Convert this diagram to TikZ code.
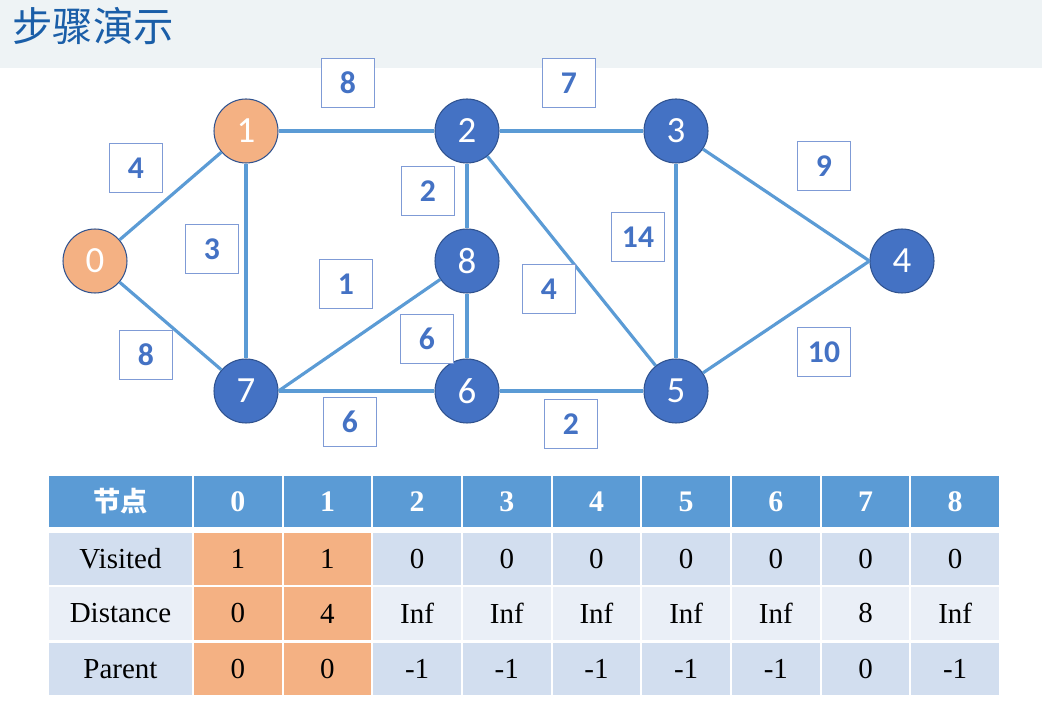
\documentclass[tikz,border=0pt]{standalone}
\usepackage{fontspec}
\setmainfont{Liberation Serif}
\newfontfamily\cjk{Noto Sans CJK SC}
\newfontfamily\numfont{Carlito}
\usepackage{xcolor}
\usetikzlibrary{positioning}

\definecolor{edgeblue}{HTML}{5B9BD5}
\definecolor{nodeblue}{HTML}{4472C4}
\definecolor{nodeline}{HTML}{2F528F}
\definecolor{orangefill}{HTML}{F4B183}
\definecolor{rowdark}{HTML}{D2DEEF}
\definecolor{rowlight}{HTML}{EAEFF7}
\definecolor{titlebg}{HTML}{EEF3F5}
\definecolor{titleblue}{HTML}{1A5EA8}
\definecolor{boxline}{HTML}{7F9BD6}

\begin{document}
\begin{tikzpicture}[x=0.02cm, y=-0.02cm]
    \tikzstyle{vertex} = [circle, draw=nodeline, fill=nodeblue, line width=0.6pt, minimum size=1.28cm, inner sep=0pt, text=white, font=\numfont\fontsize{21}{21}\selectfont]
    \tikzstyle{done} = [vertex, fill=orangefill]
    \tikzstyle{weight} = [rectangle, draw=boxline, fill=white, line width=0.6pt, minimum width=1.06cm, minimum height=0.98cm, inner sep=0pt, text=nodeblue, font=\numfont\bfseries\fontsize{18}{18}\selectfont]
    \tikzstyle{edge} = [draw=edgeblue, line width=1.8pt]
    \tikzstyle{main} = [edge, line width=2.4pt]
    \tikzstyle{cell} = [rectangle, draw=white, line width=1.2pt, minimum width=1.794cm, minimum height=1.1cm, inner sep=0pt, font=\fontsize{16.5}{16.5}\selectfont]
    \tikzstyle{head} = [cell, fill=edgeblue, minimum height=1.06cm, text=white, font=\bfseries\fontsize{17}{17}\selectfont]

    \useasboundingbox (0,0) rectangle (1042,709);
    \fill[titlebg] (0,0) rectangle (1042,68);
    \node (title) [anchor=west, inner sep=0pt, text=titleblue, font=\cjk\fontsize{23}{23}\selectfont] at (12,26) {步骤演示};

    % vertices
    \node (n0) [done] at (95,261) {0};
    \node (n1) [done] at (246,131) {1};
    \node (n2) [vertex] at (467,131) {2};
    \node (n3) [vertex] at (676,131) {3};
    \node (n4) [vertex] at (902,261) {4};
    \node (n5) [vertex] at (676,391) {5};
    \node (n6) [vertex] at (467,391) {6};
    \node (n7) [vertex] at (246,391) {7};
    \node (n8) [vertex] at (467,261) {8};

    % edges
    \draw[edge] (n0) -- (n1);
    \draw[edge] (n0) -- (n7);
    \draw[main] (n1) -- (n2);
    \draw[main] (n1) -- (n7);
    \draw[main] (n2) -- (n3);
    \draw[main] (n2) -- (n8);
    \draw[edge] (n2) -- (n5);
    \draw[main] (n3) -- (n5);
    \draw[edge] (n3) -- (n4.west);
    \draw[edge] (n4.west) -- (n5);
    \draw[main] (n7) -- (n6);
    \draw[main] (n6) -- (n5);
    \draw[main] (n8) -- (n6);
    \draw[edge] (n7.east) -- (n8);

    % weights
    \node (w12) [weight] at (348,83) {8};
    \node (w23) [weight] at (569,83) {7};
    \node (w01) [weight] at (136,168) {4};
    \node (w17) [weight] at (212,249) {3};
    \node (w28) [weight] at (428,191) {2};
    \node (w35) [weight] at (638,237) {14};
    \node (w34) [weight] at (824,166) {9};
    \node (w78) [weight] at (346,284) {1};
    \node (w25) [weight] at (549,289) {4};
    \node (w86) [weight] at (427,339) {6};
    \node (w07) [weight] at (146,355) {8};
    \node (w45) [weight] at (824,352) {10};
    \node (w76) [weight] at (350,422) {6};
    \node (w65) [weight] at (571,424) {2};

    % table
    \node (th) [head, minimum width=2.9cm, font=\cjk\bfseries\fontsize{15.5}{15.5}\selectfont] at (120.5,501.5) {节点};
    \foreach \c in {0,...,8}
        \node (th\c) [head] at ({237.8+89.67*\c},501.5) {\c};

    \node (rv) [cell, fill=rowdark, minimum width=2.9cm] at (120.5,559) {Visited};
    \node (rd) [cell, fill=rowlight, minimum width=2.9cm] at (120.5,613.5) {Distance};
    \node (rp) [cell, fill=rowdark, minimum width=2.9cm] at (120.5,669) {Parent};

    \foreach \val [count=\c from 0] in {1,1,0,0,0,0,0,0,0} {
        \ifnum\c<2 \def\cellfill{orangefill}\else\def\cellfill{rowdark}\fi
        \node (vis\c) [cell, fill=\cellfill] at ({237.8+89.67*\c},559) {\val};
    }
    \foreach \val [count=\c from 0] in {0,4,Inf,Inf,Inf,Inf,Inf,8,Inf} {
        \ifnum\c<2 \def\cellfill{orangefill}\else\def\cellfill{rowlight}\fi
        \node (dis\c) [cell, fill=\cellfill] at ({237.8+89.67*\c},613.5) {\val};
    }
    \foreach \val [count=\c from 0] in {0,0,-1,-1,-1,-1,-1,0,-1} {
        \ifnum\c<2 \def\cellfill{orangefill}\else\def\cellfill{rowdark}\fi
        \node (par\c) [cell, fill=\cellfill] at ({237.8+89.67*\c},669) {\val};
    }
\end{tikzpicture}
\end{document}
